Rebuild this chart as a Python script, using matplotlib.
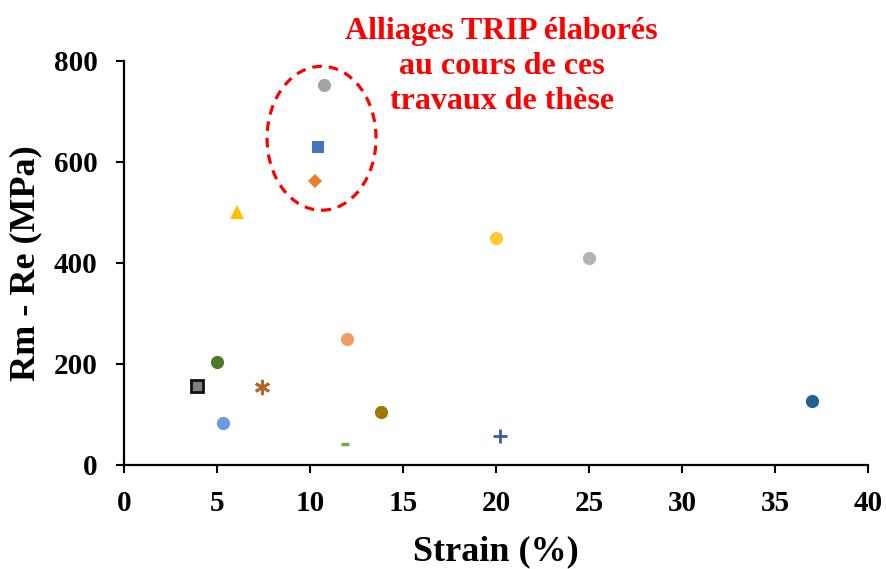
import matplotlib.pyplot as plt
from matplotlib.patches import Ellipse

# Donnees : deformation (%) et Rm - Re (MPa)
strain = [10.75, 10.45, 10.25, 6.1, 20.0, 25.0, 12.0, 5.0, 3.9, 7.4, 13.8, 5.3, 11.9, 20.2, 37.0]
rm_re = [752, 630, 563, 500, 450, 410, 250, 203, 157, 155, 104, 84, 42, 58, 126]

# styles des marqueurs (un par point)
markers = ['o', 's', 'D', '^', 'o', 'o', 'o', 'o', 's', (6, 2, 0), 'o', 'o', '_', '+', 'o']
colors = ['#A5A5A5', '#4472C4', '#ED7D31', '#FFC000', '#FFC930', '#B4B4B4', '#F29B65',
          '#4E7A2E', '#7F7F7F', '#B5652A', '#A07800', '#6A9AE0', '#70AD47', '#3D5A99', '#255E91']
sizes = [9.5, 9, 7.5, 10.5, 9.5, 9.5, 9.5, 9.5, 8, 11, 9.5, 9.5, 6, 10, 9.5]

x_ticks = [0, 5, 10, 15, 20, 25, 30, 35, 40]
y_ticks = [0, 200, 400, 600, 800]

plt.rcParams['font.family'] = ['Liberation Serif', 'DejaVu Serif']
plt.rcParams['font.weight'] = 'bold'

fig = plt.figure(figsize=(8.87, 5.69), dpi=100)
ax = fig.add_axes([0.1398, 0.1828, 0.8388, 0.7100])

for x, y, m, c, s in zip(strain, rm_re, markers, colors, sizes):
    if m in ('+', '_') or isinstance(m, tuple):
        ax.plot(x, y, marker=m, color=c, markersize=s, markeredgewidth=2 if m != '_' else 2.5,
                linestyle='none')
    elif m == 's' and c == '#7F7F7F':
        ax.plot(x, y, marker=m, color=c, markersize=s, markeredgecolor='#111111',
                markeredgewidth=2, linestyle='none')
    else:
        ax.plot(x, y, marker=m, color=c, markersize=s, markeredgewidth=0, linestyle='none')

# ellipse autour des alliages de la these
ax.add_patch(Ellipse((10.62, 647), 5.86, 285, fill=False, edgecolor='#FF0000',
                     linestyle=(0, (3, 2.2)), linewidth=2.3))

ax.text(20.3, 789, 'Alliages TRIP élaborés\nau cours de ces\ntravaux de thèse',
        color='#FF0000', fontsize=23, fontweight='bold', ha='center', va='center',
        linespacing=1.27)

ax.set_xlim(0, 40)
ax.set_ylim(0, 800)
ax.set_xticks(x_ticks)
ax.set_yticks(y_ticks)
ax.spines['top'].set_visible(False)
ax.spines['right'].set_visible(False)
for sp in ('left', 'bottom'):
    ax.spines[sp].set_linewidth(1.6)
ax.tick_params(direction='out', length=6, width=1.5, labelsize=21)
ax.tick_params(axis='x', pad=12)
ax.tick_params(axis='y', pad=13)
ax.set_xlabel('Strain (%)', fontsize=26, fontweight='bold', labelpad=13)
ax.set_ylabel('Rm - Re (MPa)', fontsize=26, fontweight='bold', labelpad=8)

fig.savefig('out.png', dpi=100)
